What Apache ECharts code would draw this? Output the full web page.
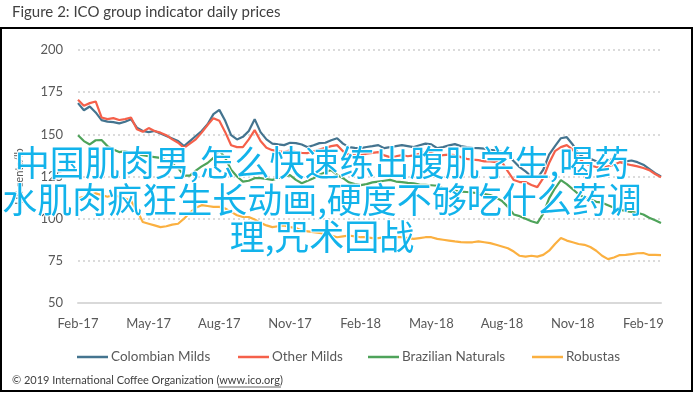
<!DOCTYPE html>
<html>
<head>
<meta charset="utf-8">
<script src="https://cdn.jsdelivr.net/npm/echarts@6/dist/echarts.min.js"></script>
<style>
html,body{margin:0;padding:0;background:#fff;}
#chart{width:695px;height:394px;}
</style>
</head>
<body>
<div id="chart"></div>
<script>
// Tick labels (every 3 months); data sampled weekly-ish (4 points per month)
const tickLabels = ['Feb-17','May-17','Aug-17','Nov-17','Feb-18','May-18','Aug-18','Nov-18','Feb-19'];
const seriesNames = ['Colombian Milds','Other Milds','Brazilian Naturals','Robustas'];

const colombianMilds = [
168.5,164.3,166.5,163,158.4,157.5,157.2,156.5,157.5,159,
154,152,151.3,152,150.5,149,147.5,146,143,146,
149,152,156,162,164.5,158,149.5,147,148.5,152,
159,151.3,147,144.5,144,143.6,145,144.8,144,142.4,
143.5,144.8,145,146.5,147.7,144.5,142.4,142,141.8,142.5,
143,143.6,141.8,142.4,143,143.6,143,142.4,143.5,144.5,
144,141.8,142.4,143.5,144.2,143,142.4,142,141.8,141.5,
140.8,140.3,139.5,138.5,134,130.5,128,125,124,129,
138,143,147.7,148.3,144,138.5,136,135.5,134,133,
134.5,135.5,135,134,134.5,133.5,132,129.5,127,125];

const otherMilds = [
170.5,167,168.5,169.5,160,159,159.6,158.5,159,160,
153,151.5,153.7,152,151,149.5,147,145,142,144.5,
147,151,155.5,159.6,158,151.3,143.5,142.4,142.4,147,
152.5,146,142,140.6,140,139.5,140.5,139.5,139,138.9,
140,141,142,143,143.6,140,138,137.5,137.7,138.5,
139,139.5,137.5,136.5,137,137.7,137,137.5,138.5,139.5,
139,137.5,137.7,138,137.7,136.5,135.5,135,134.7,134,
134,133.5,133.5,128,122.9,121.7,121.7,120,118.7,124,
133,140,142.4,143.6,141,136,133,131.5,130.6,130,
131,132,133.5,132.5,131.7,131,130,128.8,126.5,124.6];

const brazilianNaturals = [
149.5,146,144,146.5,146.6,143,141,139.5,140,139,
138,137.7,137,136.5,136,134.5,132.5,130,125.5,125.5,
128.5,131,133,136,140.5,136,129,125,122,122.5,
124,124,123.5,123,124,125,125.8,123,121,122.5,
124,126,127.5,128.8,126,124,121.5,120.5,119.9,120.5,
121.5,122,122.5,123,122,121.7,121.2,121,120.2,120,
119.8,119.5,118,117,116.5,116,115.8,115.5,115,114.5,
114,112.5,110.5,107,102.5,101.5,100,98.5,97.4,103,
112,118,122.9,120.5,117.5,114.5,112.5,111.5,110,109.5,
108,106.5,105.5,104.5,104,103.5,102.5,100.5,99,97.4];

const robustas = [
112,113,114,115,114,113,114,113,112,110.5,
105,98,97,96,95,95.5,96.5,97,100,103.5,
106.5,108,107.5,107,107,106,104,102,101,101,
99.5,97.5,96,95,95.5,96,95,94.5,93,92.5,
92,91.5,91,90,89,89.5,90,89.5,89,89,
88.5,88.5,89,89.5,89,89,88.5,88,88.5,89,
89,88,87.5,87,86.5,86.1,86,86,86.5,86,
85.5,84.5,83.5,82.5,80.5,78,77.5,78,77.5,78.5,
81,85,88.5,87,86,85,84.5,83.2,81,78,
76,77,78.4,78.5,79,79.5,79.6,78.5,78.5,78.4];

const colors = ['#44748f','#f5604a','#4ea35a','#fbb040'];
const allSeries = [colombianMilds, otherMilds, brazilianNaturals, robustas];

// category axis: one slot per sample; every 12th slot carries a tick label
const categories = colombianMilds.map((_, i) => String(i));

const overlayText = '中国肌肉男,怎么快速练出腹肌学生,喝药\n水肌肉疯狂生长动画,硬度不够吃什么药调\n理,咒术回战';

const chart = echarts.init(document.getElementById('chart'), null, {renderer:'canvas'});
const font = 'Lato, "Open Sans", sans-serif';
const legendLefts = [72, 233, 363, 527];

chart.setOption({
  animation: false,
  backgroundColor: '#fff',
  textStyle: { fontFamily: font },
  grid: { left: 78, right: 34, top: 50, bottom: 91, containLabel: false },
  xAxis: {
    type: 'category',
    data: categories,
    boundaryGap: false,
    axisLine: { show: true, lineStyle: { color: '#d9d9d9', width: 2 } },
    axisTick: { show: false },
    axisLabel: {
      interval: (i) => i % 12 === 0,
      formatter: (v) => { const i = +v; return i % 12 === 0 ? (tickLabels[i / 12] || '') : ''; },
      color: '#595959', fontSize: 13, fontFamily: font, margin: 14
    },
    splitLine: { show: false }
  },
  yAxis: {
    type: 'value', min: 50, max: 200, interval: 25,
    name: 'US cents/lb', nameLocation: 'middle', nameGap: 53, nameRotate: 90,
    nameTextStyle: { color: '#595959', fontSize: 11, fontFamily: font },
    axisLine: { show: false }, axisTick: { show: false },
    axisLabel: { color: '#595959', fontSize: 13, fontFamily: font, margin: 15 },
    splitLine: { show: true, lineStyle: { color: '#cfcfcf', type: [2, 3], width: 1.5 } }
  },
  legend: seriesNames.map((n, k) => ({
    data: [n],
    left: legendLefts[k], top: 345,
    icon: 'rect', itemWidth: 31, itemHeight: 2.5,
    textStyle: { color: '#595959', fontSize: 13.5, fontFamily: font, padding: [0,0,0,-2] }
  })),
  series: seriesNames.map((n, k) => ({
    name: n, type: 'line', data: allSeries[k], showSymbol: false, symbol: 'none',
    lineStyle: { color: colors[k], width: 2.2 }, itemStyle: { color: colors[k] },
    z: 2 + k
  })),
  graphic: [
    { type: 'text', left: 12, top: 5, style: { text: 'Figure 2: ICO group indicator daily prices', fill: '#404040', font: '15px ' + font } },
    { type: 'rect', shape: { x: 1, y: 28, width: 691, height: 363 }, style: { fill: 'none', stroke: '#000', lineWidth: 2 }, silent: true, z: 10 },
    { type: 'text', left: 12, top: 375, style: { text: '© 2019 International Coffee Organization (www.ico.org)', fill: '#404040', font: '11px ' + font } },
    { type: 'line', shape: { x1: 218, y1: 387, x2: 281, y2: 387 }, style: { stroke: '#404040', lineWidth: 0.8 }, silent: true },
    { type: 'text', x: 322, y: 200, z: 100,
      style: { text: overlayText, fill: '#12b3eb', stroke: '#ffffff', lineWidth: 2,
        font: '35px "Noto Sans CJK SC", sans-serif', align: 'center', verticalAlign: 'middle', lineHeight: 37 } }
  ]
});
</script>
</body>
</html>
